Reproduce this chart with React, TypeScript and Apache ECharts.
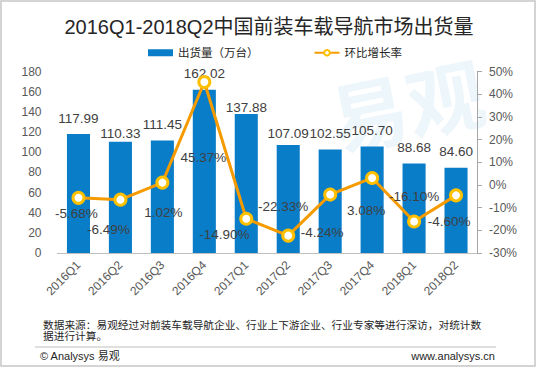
import React, { useEffect, useRef } from "react";
import * as echarts from "echarts";

const titleText = "2016Q1-2018Q2中国前装车载导航市场出货量";
const barName = "出货量（万台）";
const lineName = "环比增长率";
const categories = ["2016Q1", "2016Q2", "2016Q3", "2016Q4", "2017Q1", "2017Q2", "2017Q3", "2017Q4", "2018Q1", "2018Q2"];
const shipments = [117.99, 110.33, 111.45, 162.02, 137.88, 107.09, 102.55, 105.7, 88.68, 84.6];
const growthRates = [-5.68, -6.49, 1.02, 45.37, -14.9, -22.33, -4.24, 3.08, -16.1, -4.6];
const leftAxis = { min: 0, max: 180, interval: 20 };
const rightAxis = { min: -30, max: 50, interval: 10 };
const sourceText = "数据来源：易观经过对前装车载导航企业、行业上下游企业、行业专家等进行深访，对统计数\n据进行计算。";
const copyrightText = "© Analysys 易观";
const siteText = "www.analysys.cn";
const watermarkText = "易观";

// layout-only label nudges (pixels), mirroring the reference placement
const barLabelOffsets = [[0, 0], [0, 7.5], [0, 0], [0, 0], [0, 9], [0, 4], [0, 0], [0, 0], [0, 0], [0, 0]];
const lineLabelOffsets = [[-2, 16], [-12, 30], [1, 30], [-1, 75], [-22, 16], [-5, -29], [-8, 38], [-6, 33], [0, -25], [-7, 26]];

const FONT = "'Liberation Sans', Arial, 'Noto Sans CJK SC', sans-serif";

export default function App() {
  const ref = useRef<HTMLDivElement>(null);
  useEffect(() => {
    if (!ref.current) return;
    const chart = echarts.init(ref.current, null, { renderer: "svg" });
    chart.setOption({
      animation: false,
      backgroundColor: "#ffffff",
      textStyle: { fontFamily: FONT },
      title: {
        text: titleText,
        left: "center",
        top: 12,
        textStyle: { fontSize: 20, fontWeight: "normal", color: "#262626", fontFamily: FONT },
      },
      legend: {
        left: 143,
        top: 42,
        itemWidth: 25,
        itemHeight: 7,
        itemGap: 55,
        textStyle: { fontSize: 11.5, color: "#262626", fontFamily: FONT },
        data: [{ name: barName, icon: "rect" }, { name: lineName }],
      },
      grid: { left: 57.5, right: 61, top: 71.5, bottom: 117 },
      xAxis: {
        type: "category",
        data: categories,
        axisLine: { lineStyle: { color: "#bfbfbf", width: 1 } },
        axisTick: { show: false },
        axisLabel: { rotate: 45, fontSize: 12, color: "#595959", margin: 10, interval: 0, fontFamily: FONT },
      },
      yAxis: [
        {
          type: "value",
          min: leftAxis.min,
          max: leftAxis.max,
          interval: leftAxis.interval,
          axisLine: { show: false },
          axisTick: { show: false },
          splitLine: { show: false },
          axisLabel: { fontSize: 12, color: "#595959", margin: 16, fontFamily: FONT },
        },
        {
          type: "value",
          position: "right",
          min: rightAxis.min,
          max: rightAxis.max,
          interval: rightAxis.interval,
          axisLine: { show: true, lineStyle: { color: "#a6a6a6" } },
          axisTick: { show: true, length: 5, lineStyle: { color: "#a6a6a6" } },
          splitLine: { show: false },
          axisLabel: { formatter: "{value}%", fontSize: 12, color: "#595959", margin: 12, fontFamily: FONT },
        },
      ],
      graphic: [
        {
          type: "text",
          x: 330,
          y: 118,
          rotation: 0.2,
          z: -10,
          silent: true,
          style: {
            text: watermarkText,
            fontSize: 78,
            fontWeight: "bold",
            fontFamily: "'Noto Sans CJK SC', sans-serif",
            fill: "rgba(0,125,200,0.07)",
            textVerticalAlign: "middle",
          },
        },
        {
          type: "rect",
          silent: true,
          shape: { x: 1, y: 1, width: 534, height: 365 },
          style: { fill: "none", stroke: "#c6c6c6", lineWidth: 1.5 },
        },
        {
          type: "line",
          silent: true,
          shape: { x1: 35, y1: 347, x2: 496, y2: 347 },
          style: { stroke: "#bfbfbf", lineWidth: 1 },
        },
        {
          type: "text",
          x: 43,
          y: 319,
          style: {
            text: sourceText,
            fontSize: 10.7,
            lineHeight: 11.5,
            fill: "#262626",
            fontFamily: FONT,
          },
        },
        {
          type: "text",
          x: 40,
          y: 356,
          style: { text: copyrightText, fontSize: 11, fill: "#262626", fontFamily: FONT, textVerticalAlign: "middle" },
        },
        {
          type: "text",
          x: 495,
          y: 356,
          style: {
            text: siteText,
            fontSize: 11,
            fill: "#262626",
            fontFamily: FONT,
            textAlign: "right",
            textVerticalAlign: "middle",
          },
        },
      ],
      series: [
        {
          name: barName,
          type: "bar",
          yAxisIndex: 0,
          barWidth: "55%",
          itemStyle: { color: "#0A7DC9" },
          data: shipments.map((v, i) => ({ value: v, label: { offset: barLabelOffsets[i] } })),
          label: {
            show: true,
            position: "top",
            distance: 9,
            fontSize: 13.5,
            color: "#404040",
            fontFamily: FONT,
            formatter: (p: any) => Number(p.value).toFixed(2),
          },
        },
        {
          name: lineName,
          type: "line",
          yAxisIndex: 1,
          symbol: "circle",
          symbolSize: 11,
          lineStyle: { color: "#F59B00", width: 3 },
          itemStyle: { color: "#ffffff", borderColor: "#FFC000", borderWidth: 3 },
          data: growthRates.map((v, i) => ({ value: v, label: { offset: lineLabelOffsets[i] } })),
          label: {
            show: true,
            position: "inside",
            fontSize: 13.5,
            color: "#404040",
            fontFamily: FONT,
            formatter: (p: any) => Number(p.value).toFixed(2) + "%",
          },
          z: 3,
        },
      ],
    });
    return () => chart.dispose();
  }, []);
  return (
    <div
      ref={ref}
      style={{ position: "fixed", left: 0, top: 0, width: 538, height: 370, background: "#fff" }}
    />
  );
}
